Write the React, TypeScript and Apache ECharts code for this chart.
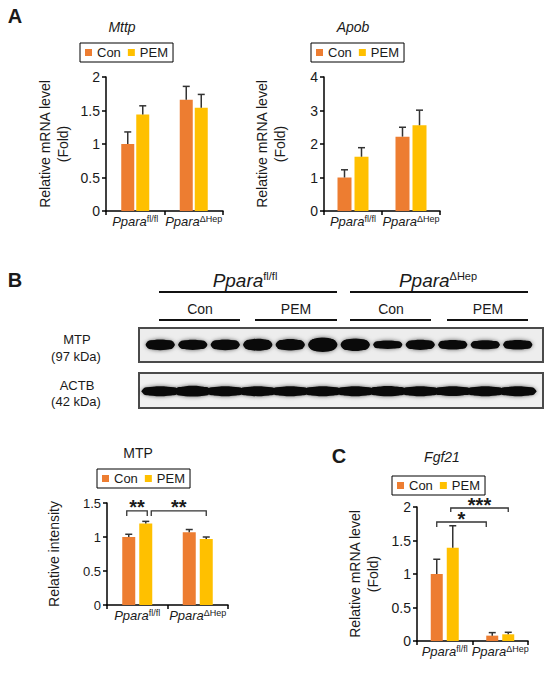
import React, { useEffect, useRef } from 'react';
import * as echarts from 'echarts';

// ---------- data ----------
const groups = ['fl/fl', 'ΔHep'];
const seriesNames = ['Con', 'PEM'];

// Panel A – Mttp
const mttpCon = [1.0, 1.66];
const mttpConErr = [0.18, 0.2];
const mttpPem = [1.44, 1.54];
const mttpPemErr = [0.13, 0.2];

// Panel A – Apob
const apobCon = [1.0, 2.22];
const apobConErr = [0.23, 0.28];
const apobPem = [1.62, 2.56];
const apobPemErr = [0.27, 0.45];

// Panel B – MTP quantification
const mtpCon = [1.0, 1.07];
const mtpConErr = [0.04, 0.04];
const mtpPem = [1.2, 0.97];
const mtpPemErr = [0.03, 0.03];

// Panel C – Fgf21
const fgfCon = [1.0, 0.08];
const fgfConErr = [0.22, 0.045];
const fgfPem = [1.39, 0.1];
const fgfPemErr = [0.33, 0.03];

// Panel B – western blot (relative band signal per lane)
const laneTreatments = ['Con', 'Con', 'Con', 'PEM', 'PEM', 'PEM', 'Con', 'Con', 'Con', 'PEM', 'PEM', 'PEM'];
const mtpBand = [0.9, 0.85, 0.9, 1.0, 0.95, 1.2, 1.05, 0.7, 0.85, 0.8, 0.75, 0.8];
const actbBand = [1.0, 1.08, 1.0, 1.0, 1.0, 1.0, 1.0, 1.02, 1.0, 0.97, 1.0, 1.0];

// Significance brackets: [category, series] ends, y level, label
const mtpBrackets = [
  { from: [0, 0], to: [0, 1], y: 1.385, leg: 0.075, label: '**', dx1: -2, dx2: 1.5 },
  { from: [0, 1], to: [1, 1], y: 1.385, leg: 0.075, label: '**', dx1: 5.5, dx2: 0 },
];
const fgfBrackets = [
  { from: [0, 0], to: [1, 0], y: 1.776, leg: 0.075, label: '*', dx1: 0, dx2: -6 },
  { from: [0, 1], to: [1, 1], y: 1.985, leg: 0.06, label: '***', dx1: -2, dx2: 0 },
];

// ---------- styles ----------
const FONT = 'Arial, "Liberation Sans", Helvetica, sans-serif';
const TXT = '#1a1a1a';
const CON_COLOR = '#ED7D31';
const PEM_COLOR = '#FFC000';
const ERR_COLOR = '#333333';

type Bracket = { from: number[]; to: number[]; y: number; leg: number; label: string; dx1: number; dx2: number };
type Panel = {
  grid: { left: number; top: number; width: number; height: number };
  yMax: number;
  yInterval: number;
  con: number[];
  conErr: number[];
  pem: number[];
  pemErr: number[];
  barW: number;
  gap: number;
  tickFont: number;
  yName: string;
  nameGap: number;
  legend: { left: number; top: number };
  brackets?: Bracket[];
};

const panels: Panel[] = [
  {
    grid: { left: 106, top: 77, width: 117, height: 134 },
    yMax: 2, yInterval: 0.5,
    con: mttpCon, conErr: mttpConErr, pem: mttpPem, pemErr: mttpPemErr,
    barW: 13, gap: 2, tickFont: 14,
    yName: 'Relative mRNA level\n(Fold)', nameGap: 34,
    legend: { left: 80, top: 43 },
  },
  {
    grid: { left: 324, top: 77, width: 116, height: 134 },
    yMax: 4, yInterval: 1,
    con: apobCon, conErr: apobConErr, pem: apobPem, pemErr: apobPemErr,
    barW: 14, gap: 3, tickFont: 14,
    yName: 'Relative mRNA level\n(Fold)', nameGap: 35,
    legend: { left: 311, top: 43 },
  },
  {
    grid: { left: 107, top: 503, width: 121, height: 102 },
    yMax: 1.5, yInterval: 0.5,
    con: mtpCon, conErr: mtpConErr, pem: mtpPem, pemErr: mtpPemErr,
    barW: 13, gap: 4, tickFont: 13,
    yName: 'Relative intensity', nameGap: 44,
    legend: { left: 97, top: 469 },
    brackets: mtpBrackets,
  },
  {
    grid: { left: 417, top: 507, width: 111, height: 134 },
    yMax: 2, yInterval: 0.5,
    con: fgfCon, conErr: fgfConErr, pem: fgfPem, pemErr: fgfPemErr,
    barW: 12, gap: 4, tickFont: 14,
    yName: 'Relative mRNA level\n(Fold)', nameGap: 35,
    legend: { left: 392, top: 476 },
    brackets: fgfBrackets,
  },
];

function buildOption() {
  const grid: any[] = [];
  const xAxis: any[] = [];
  const yAxis: any[] = [];
  const series: any[] = [];
  const legend: any[] = [];
  const graphic: any[] = [];

  panels.forEach((p, i) => {
    grid.push({ ...p.grid, containLabel: false });
    xAxis.push({
      type: 'category',
      gridIndex: i,
      data: groups,
      boundaryGap: true,
      axisLine: { lineStyle: { color: '#000', width: 1.5 } },
      axisTick: { show: true, length: 4, inside: false, lineStyle: { color: '#000', width: 1.5 } },
      axisLabel: {
        interval: 0,
        margin: 3,
        color: TXT,
        formatter: (v: string) => `{i|Ppara}{s|${v}}`,
        rich: {
          i: { fontStyle: 'italic', fontSize: 13, fontFamily: FONT, color: TXT, lineHeight: 14, verticalAlign: 'bottom' },
          s: { fontSize: 9, fontFamily: FONT, color: TXT, lineHeight: 9, verticalAlign: 'top' },
        },
      },
    });
    yAxis.push({
      type: 'value',
      gridIndex: i,
      min: 0,
      max: p.yMax,
      interval: p.yInterval,
      axisLine: { show: true, lineStyle: { color: '#000', width: 1.5 } },
      axisTick: { show: true, length: 4, lineStyle: { color: '#000', width: 1.5 } },
      splitLine: { show: false },
      axisLabel: { fontSize: p.tickFont, fontFamily: FONT, color: TXT, margin: 6 },
      name: p.yName,
      nameLocation: 'middle',
      nameGap: p.nameGap,
      nameTextStyle: { fontSize: 14, fontFamily: FONT, color: TXT, lineHeight: 18 },
    });
    const barGap = `${(p.gap / p.barW) * 100}%`;
    series.push({
      type: 'bar', name: seriesNames[0], xAxisIndex: i, yAxisIndex: i,
      data: p.con, barWidth: p.barW, barGap, itemStyle: { color: CON_COLOR }, z: 2,
    });
    series.push({
      type: 'bar', name: seriesNames[1], xAxisIndex: i, yAxisIndex: i,
      data: p.pem, barWidth: p.barW, barGap, itemStyle: { color: PEM_COLOR }, z: 2,
    });
    const half = (p.barW + p.gap) / 2;
    const errSeries = (vals: number[], errs: number[], off: number) => ({
      type: 'custom', xAxisIndex: i, yAxisIndex: i, silent: true, z: 3,
      data: vals.map((v, k) => [k, v, errs[k]]),
      renderItem: (_params: any, api: any) => {
        const c = api.coord([api.value(0), api.value(1)]);
        const t = api.coord([api.value(0), api.value(1) + api.value(2)]);
        const x = c[0] + off;
        return {
          type: 'group',
          children: [
            { type: 'line', shape: { x1: x, y1: c[1], x2: x, y2: t[1] }, style: { stroke: ERR_COLOR, lineWidth: 1.5 } },
            { type: 'line', shape: { x1: x - 3.5, y1: t[1], x2: x + 3.5, y2: t[1] }, style: { stroke: ERR_COLOR, lineWidth: 1.5 } },
          ],
        };
      },
    });
    series.push(errSeries(p.con, p.conErr, -half));
    series.push(errSeries(p.pem, p.pemErr, half));

    if (p.brackets) {
      const br = p.brackets;
      series.push({
        type: 'custom', xAxisIndex: i, yAxisIndex: i, silent: true, z: 4,
        data: br.map((b, k) => [k, b.y]),
        renderItem: (_params: any, api: any) => {
          const b = br[api.value(0)];
          const a = api.coord([b.from[0], b.y]);
          const e = api.coord([b.to[0], b.y]);
          const legY = api.coord([b.from[0], b.y - b.leg])[1];
          const x1 = a[0] + (b.from[1] === 0 ? -half : half) + b.dx1;
          const x2 = e[0] + (b.to[1] === 0 ? -half : half) + b.dx2;
          const top = a[1];
          return {
            type: 'group',
            children: [
              {
                type: 'polyline',
                shape: { points: [[x1, legY], [x1, top], [x2, top], [x2, legY]] },
                style: { stroke: '#333', lineWidth: 1.3, fill: 'none' },
              },
              {
                type: 'text',
                x: (x1 + x2) / 2,
                y: top - 3.5,
                style: {
                  text: b.label, fontSize: 20, fontWeight: 'bold', fontFamily: FONT, fill: TXT,
                  align: 'center', verticalAlign: 'middle',
                },
              },
            ],
          };
        },
      });
    }

    legend.push({
      left: p.legend.left,
      top: p.legend.top,
      orient: 'horizontal',
      data: seriesNames,
      icon: 'rect',
      itemWidth: 7,
      itemHeight: 7,
      itemGap: 7,
      padding: [3, 5],
      borderColor: '#000',
      borderWidth: 1,
      selectedMode: false,
      textStyle: { fontSize: 13, fontFamily: FONT, color: TXT },
    });
  });

  // ----- western blot grid -----
  const bi = panels.length;
  grid.push({ left: 144, top: 328, width: 390, height: 80 });
  xAxis.push({ type: 'value', gridIndex: bi, min: -0.5, max: 11.5, show: false });
  yAxis.push({ type: 'value', gridIndex: bi, min: 0, max: 1, show: false });
  const bandSeries = (vals: number[], rowY: number, baseH: number, wFrac: number, blur: number) => ({
    type: 'custom', xAxisIndex: bi, yAxisIndex: bi, silent: true, z: 10,
    data: vals.map((v, k) => [k, v]),
    renderItem: (_params: any, api: any) => {
      const lane = api.value(0);
      const s = api.value(1);
      const pnt = api.coord([lane, rowY]);
      const laneW = api.size([1, 0])[0];
      const w = laneW * wFrac;
      const h = baseH * s;
      return {
        type: 'ellipse',
        shape: { cx: pnt[0], cy: pnt[1], rx: w / 2, ry: h / 2 },
        style: { fill: '#101010', shadowBlur: blur, shadowColor: 'rgba(0,0,0,0.6)' },
      };
    },
  });
  // MTP bands: ellipses plus a flat core for a band look
  const bandCore = (vals: number[], rowY: number, baseH: number, wFrac: number) => ({
    type: 'custom', xAxisIndex: bi, yAxisIndex: bi, silent: true, z: 11,
    data: vals.map((v, k) => [k, v]),
    renderItem: (_params: any, api: any) => {
      const lane = api.value(0);
      const s = api.value(1);
      const pnt = api.coord([lane, rowY]);
      const laneW = api.size([1, 0])[0];
      const w = laneW * wFrac;
      const h = baseH * s;
      return {
        type: 'rect',
        shape: { x: pnt[0] - w / 2, y: pnt[1] - h / 2, width: w, height: h, r: h / 2 },
        style: { fill: '#0a0a0a' },
      };
    },
  });
  series.push(bandSeries(mtpBand, 0.79, 12, 0.9, 4));
  series.push(bandCore(mtpBand, 0.79, 10, 0.86));
  series.push(bandSeries(actbBand, 0.21, 10, 1.15, 4));
  series.push(bandCore(actbBand, 0.21, 8, 1.08));

  // blot frames
  graphic.push({
    type: 'rect', z: 0, shape: { x: 139, y: 328, width: 404, height: 34 },
    style: { fill: '#ededed', stroke: '#4a4a4a', lineWidth: 2 },
  });
  graphic.push({
    type: 'rect', z: 0, shape: { x: 139, y: 373, width: 404, height: 35 },
    style: { fill: '#f0f0f0', stroke: '#4a4a4a', lineWidth: 2 },
  });

  const txt = (x: number, y: number, text: string, extra: any = {}) => ({
    type: 'text', x, y, z: 20,
    style: { text, fontFamily: FONT, fill: TXT, fontSize: 14, align: 'center', verticalAlign: 'middle', ...extra },
  });

  // panel letters & titles
  graphic.push(txt(15, 16, 'A', { fontSize: 20, fontWeight: 'bold' }));
  graphic.push(txt(15, 280, 'B', { fontSize: 20, fontWeight: 'bold' }));
  graphic.push(txt(339, 456, 'C', { fontSize: 20, fontWeight: 'bold' }));
  graphic.push(txt(122, 27, 'Mttp', { fontStyle: 'italic' }));
  graphic.push(txt(353, 27, 'Apob', { fontStyle: 'italic' }));
  graphic.push(txt(138, 453, 'MTP'));
  graphic.push(txt(442, 457, 'Fgf21', { fontStyle: 'italic' }));

  // blot header
  const genoRich = {
    i: { fontStyle: 'italic', fontSize: 19, fontFamily: FONT, fill: TXT, lineHeight: 20, verticalAlign: 'bottom' },
    s: { fontSize: 11, fontFamily: FONT, fill: TXT, lineHeight: 11, verticalAlign: 'top' },
  };
  const genoCenters = [245, 438];
  const genoLines = [[159, 337], [350, 528]];
  groups.forEach((g, k) => {
    graphic.push({
      type: 'text', x: genoCenters[k], y: 280, z: 20,
      style: { text: `{i|Ppara}{s|${g}}`, rich: genoRich, align: 'center', verticalAlign: 'middle' },
    });
    graphic.push({
      type: 'line', z: 20, shape: { x1: genoLines[k][0], y1: 292, x2: genoLines[k][1], y2: 292 },
      style: { stroke: '#111', lineWidth: 2 },
    });
  });
  const trtCenters = [200, 296, 391, 488];
  const trtLines = [[159, 240], [255, 337], [350, 431], [447, 528]];
  const trtLabels = [laneTreatments[0], laneTreatments[3], laneTreatments[6], laneTreatments[9]];
  trtLabels.forEach((t, k) => {
    graphic.push(txt(trtCenters[k], 309, t));
    graphic.push({
      type: 'line', z: 20, shape: { x1: trtLines[k][0], y1: 320, x2: trtLines[k][1], y2: 320 },
      style: { stroke: '#111', lineWidth: 2 },
    });
  });
  graphic.push(txt(77, 339, 'MTP', { fontSize: 13 }));
  graphic.push(txt(76, 356, '(97 kDa)', { fontSize: 13 }));
  graphic.push(txt(77, 385, 'ACTB', { fontSize: 13 }));
  graphic.push(txt(76, 401, '(42 kDa)', { fontSize: 13 }));

  return {
    animation: false,
    backgroundColor: '#ffffff',
    textStyle: { fontFamily: FONT },
    grid,
    xAxis,
    yAxis,
    legend,
    series,
    graphic: { elements: graphic },
  };
}

export default function App() {
  const ref = useRef<HTMLDivElement>(null);
  useEffect(() => {
    document.body.style.margin = '0';
    if (!ref.current) return;
    const chart = echarts.init(ref.current, undefined, { renderer: 'svg' });
    chart.setOption(buildOption() as any);
    return () => chart.dispose();
  }, []);
  return (
    <div
      ref={ref}
      style={{ position: 'absolute', left: 0, top: 0, width: 550, height: 673, background: '#fff' }}
    />
  );
}
